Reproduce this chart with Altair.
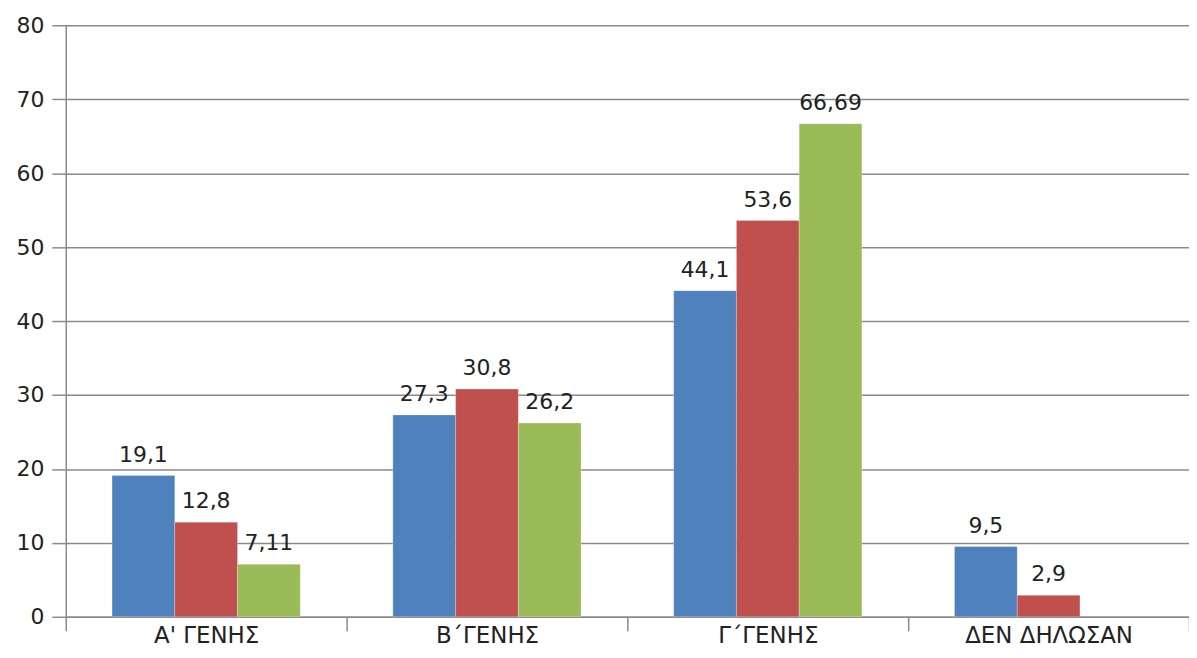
import altair as alt
import pandas as pd

categories = ["Α' ΓΕΝΗΣ", "Β΄ΓΕΝΗΣ", "Γ΄ΓΕΝΗΣ", "ΔΕΝ ΔΗΛΩΣΑΝ"]
series_names = ["Σειρά 1", "Σειρά 2", "Σειρά 3"]
series_1 = [19.1, 27.3, 44.1, 9.5]
series_2 = [12.8, 30.8, 53.6, 2.9]
series_3 = [7.11, 26.2, 66.69, None]
colors = ["#4F81BD", "#C0504D", "#9BBB59"]
y_ticks = [0, 10, 20, 30, 40, 50, 60, 70, 80]

rows = []
for name, vals in zip(series_names, [series_1, series_2, series_3]):
    for cat, v in zip(categories, vals):
        if v is None:
            continue
        rows.append({"cat": cat, "series": name, "value": v,
                     "label": str(v).replace(".", ",")})
df = pd.DataFrame(rows)

FONT = "DejaVu Sans"
TXT = "#222222"
GRID = "#8a8a8a"

x_enc = alt.X("cat:N", sort=categories, title=None,
              scale=alt.Scale(paddingInner=0, paddingOuter=0),
              axis=alt.Axis(labelAngle=0, tickBand="extent", tickSize=14,
                            tickColor=GRID, domainColor=GRID, labelPadding=17,
                            labelBaseline="bottom",
                            labelFont=FONT, labelFontSize=23, labelColor=TXT,
                            grid=False))
xoff = alt.XOffset("series:N", sort=series_names,
                   scale=alt.Scale(paddingInner=0, paddingOuter=0.738))
y_enc = alt.Y("value:Q", title=None,
              scale=alt.Scale(domain=[0, 80], nice=False),
              axis=alt.Axis(values=y_ticks, tickSize=14, tickColor=GRID,
                            domainColor=GRID, gridColor=GRID, grid=True,
                            labelPadding=8, labelFont=FONT, labelFontSize=22,
                            labelColor=TXT))

bars = alt.Chart(df).mark_bar(stroke="#ffffff", strokeOpacity=0.25, strokeWidth=1).encode(
    x=x_enc, xOffset=xoff, y=y_enc,
    color=alt.Color("series:N", sort=series_names,
                    scale=alt.Scale(domain=series_names, range=colors), legend=None),
)
labels = alt.Chart(df).mark_text(font=FONT, fontSize=22, color=TXT,
                                 baseline="alphabetic", dy=-14, align="center").encode(
    x=alt.X("cat:N", sort=categories), xOffset=alt.XOffset("series:N", sort=series_names),
    y="value:Q", text="label:N",
)

chart = (bars + labels).properties(
    width=1128, height=594,
    autosize=alt.AutoSizeParams(type="none"),
    padding={"left": 58, "top": 16, "right": 0, "bottom": 32},
).configure_view(stroke=None).configure_axis(domainWidth=1.5, gridWidth=1.5, tickWidth=1.5)

chart.save("out.html", embed_options={"renderer": "svg", "actions": False})
